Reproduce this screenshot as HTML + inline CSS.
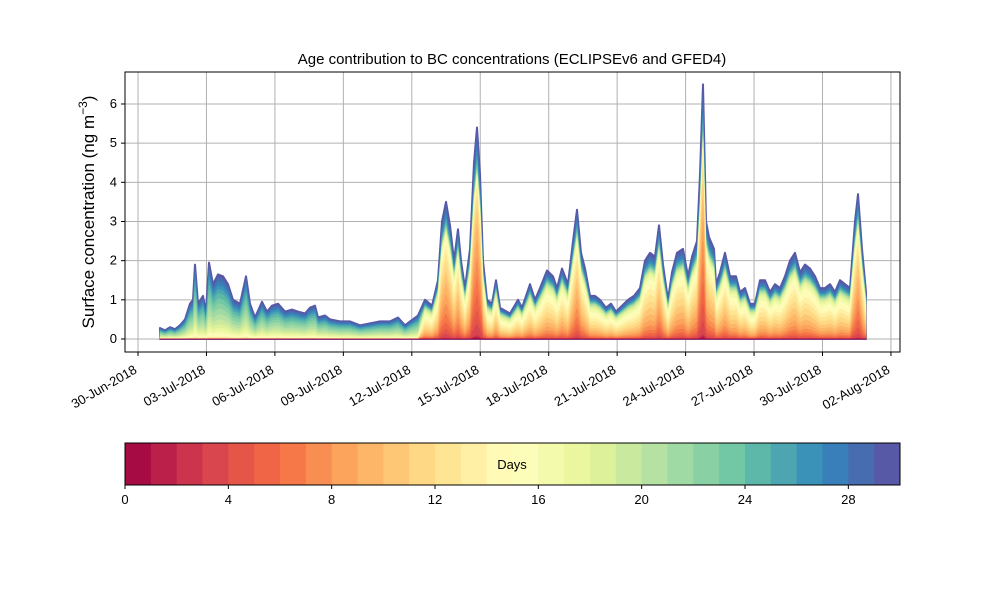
<!DOCTYPE html>
<html><head><meta charset="utf-8"><style>
body{margin:0;background:#fff;}
svg{display:block;font-family:"Liberation Sans","DejaVu Sans",sans-serif;}
</style></head><body>
<svg id="s" width="1000" height="600" xmlns="http://www.w3.org/2000/svg"></svg>
<script>
const S=document.getElementById('s');let h='';
const X0=125,X1=900,Y0=72,Y1=352;
const yv=v=>339-v*39.17;
const pts=[[160,.28],[165,.22],[170,.3],[175,.25],[180,.35],[185,.5],[190,.9],[193,1],[195,1.9],[198,.9],[203,1.1],[206,.7],[209,1.95],[213,1.4],[218,1.65],[223,1.6],[228,1.4],[233,1.0],[240,.9],[246,1.6],[250,.9],[255,.55],[262,.95],[267,.7],[272,.85],[278,.9],[285,.7],[292,.75],[298,.7],[305,.65],[310,.8],[315,.85],[318,.55],[325,.6],[330,.5],[340,.45],[350,.45],[360,.35],[370,.4],[380,.45],[390,.45],[398,.55],[405,.35],[410,.45],[418,.6],[425,1.0],[432,.85],[438,1.5],[442,3.0],[446,3.5],[450,2.9],[454,2.0],[458,2.8],[461,2.0],[465,1.3],[470,2.3],[474,4.5],[477,5.4],[480,4.2],[483,2.0],[487,1.0],[492,.9],[496,1.5],[500,.8],[510,.65],[518,1.0],[522,.8],[530,1.4],[535,1.0],[540,1.3],[547,1.75],[553,1.6],[557,1.3],[562,1.8],[568,1.4],[573,2.5],[577,3.3],[581,2.2],[585,1.8],[590,1.1],[595,1.1],[600,1.0],[606,.8],[611,.9],[616,.7],[622,.85],[628,1.0],[634,1.1],[640,1.3],[645,2.0],[650,2.2],[655,2.1],[659,2.9],[663,1.9],[668,1.0],[672,1.7],[677,2.2],[683,2.3],[688,1.6],[692,2.1],[697,2.5],[700,4.2],[703,6.5],[706,3.0],[709,2.6],[714,2.3],[716,1.4],[720,1.7],[725,2.2],[730,1.6],[736,1.6],[740,1.2],[745,1.3],[750,.9],[755,.9],[760,1.5],[765,1.5],[770,1.2],[775,1.4],[780,1.3],[785,1.6],[790,2.0],[795,2.2],[800,1.7],[805,1.9],[810,1.8],[815,1.6],[820,1.3],[825,1.3],[830,1.4],[835,1.2],[840,1.5],[845,1.4],[850,1.3],[855,3.0],[858,3.7],[862,2.3],[866,1.2]];
const an=['#9e0142','#d53e4f','#f46d43','#fdae61','#fee08b','#ffffbf','#e6f598','#abdda4','#66c2a5','#3288bd','#5e4fa2'];
function hx(c){return [1,3,5].map(i=>parseInt(c.substr(i,2),16));}
function cm(t){let f=t*10,i=Math.min(9,Math.floor(f)),r=f-i,a=hx(an[i]),b=hx(an[i+1]);return 'rgb('+a.map((v,j)=>Math.round(v+(b[j]-v)*r)).join(',')+')';}
const cols=[];for(let i=0;i<30;i++)cols.push(cm((i+.5)/30));
function cum(x,T){
  let m,s;
  if(x<420){m=21;s=6;} else {m=Math.max(7,14-1.4*T);s=6;}
  const w=[];let tot=0;
  for(let k=0;k<30;k++){let v=Math.exp(-Math.pow((k-m)/s,2))+(k>=20?0.1:0)+(k>=24?0.15:0)+(k>=27?0.2:0);if(k<3)v*=0.2;w.push(v);tot+=v;}
  const c=[];let a=0;for(let k=0;k<30;k++){a+=w[k];c.push(a/tot);}return c;
}
const C=pts.map(([x,T])=>cum(x,T));
const xt=[];for(let i=0;i<12;i++)xt.push(138+i*68.45);
const dl=['30-Jun-2018','03-Jul-2018','06-Jul-2018','09-Jul-2018','12-Jul-2018','15-Jul-2018','18-Jul-2018','21-Jul-2018','24-Jul-2018','27-Jul-2018','30-Jul-2018','02-Aug-2018'];
xt.forEach(x=>h+=`<line x1="${x}" y1="${Y0}" x2="${x}" y2="${Y1}" stroke="#b0b0b0" stroke-width="1"/>`);
for(let v=0;v<=6;v++)h+=`<line x1="${X0}" y1="${yv(v)}" x2="${X1}" y2="${yv(v)}" stroke="#b0b0b0" stroke-width="1"/>`;
for(let k=29;k>=0;k--){
let d='M'+pts.map(([x,T],i)=>x+','+yv(T*C[i][k]).toFixed(1)).join(' L')+` L866,339 L160,339 Z`;
h+=`<path d="${d}" fill="${cols[k]}" stroke="${cols[k]}" stroke-width="${k==29?2:0.5}" stroke-linejoin="round"/>`;}
h+=`<rect x="${X0}" y="${Y0}" width="${X1-X0}" height="${Y1-Y0}" fill="none" stroke="#000" stroke-width="1"/>`;
for(let v=0;v<=6;v++){h+=`<line x1="${X0}" y1="${yv(v)}" x2="${X0-4}" y2="${yv(v)}" stroke="#000"/><text x="${X0-8}" y="${yv(v)+4}" font-size="13" text-anchor="end">${v}</text>`;}
xt.forEach((x,i)=>{h+=`<line x1="${x}" y1="${Y1}" x2="${x}" y2="${Y1+4}" stroke="#000"/><text transform="translate(${x-5},${Y1+12}) rotate(-30)" font-size="13" text-anchor="end" dominant-baseline="hanging">${dl[i]}</text>`;});
h+=`<text x="512" y="64" font-size="15" text-anchor="middle">Age contribution to BC concentrations (ECLIPSEv6 and GFED4)</text>`;
h+=`<text transform="translate(94,212) rotate(-90)" font-size="17" text-anchor="middle">Surface concentration (ng m<tspan dy="-7" font-size="12">−3</tspan><tspan dy="7">)</tspan></text>`;
const cw=(900-125)/30;
for(let i=0;i<30;i++)h+=`<rect x="${125+i*cw}" y="443" width="${cw+0.5}" height="42" fill="${cols[i]}"/>`;
h+=`<rect x="125" y="443" width="775" height="42" fill="none" stroke="#000"/>`;
h+=`<text x="512" y="469" font-size="13" text-anchor="middle">Days</text>`;
for(let d=0;d<=28;d+=4){let x=125+d*cw;h+=`<line x1="${x}" y1="485" x2="${x}" y2="489" stroke="#000"/><text x="${x}" y="504" font-size="13" text-anchor="middle">${d}</text>`;}
S.innerHTML=h;
</script>
</body></html>
